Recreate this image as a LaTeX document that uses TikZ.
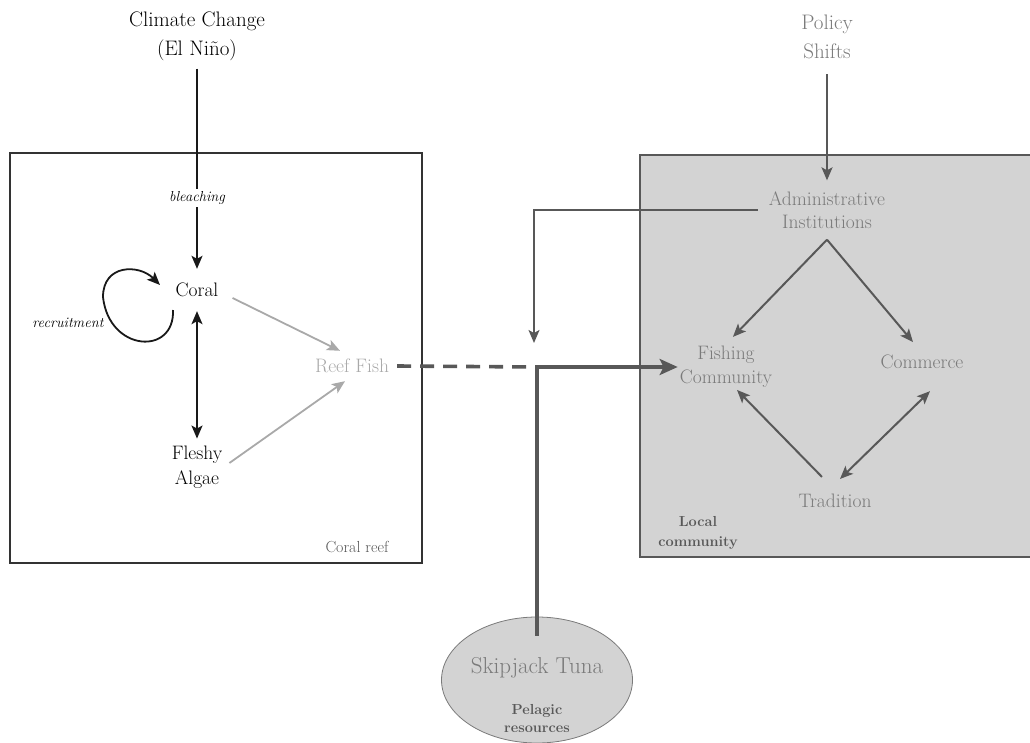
\documentclass[tikz,border=0pt]{standalone}
\usepackage{amsmath}
\usepackage{amssymb}
\usepackage[table]{xcolor}
\usetikzlibrary{arrows, arrows.meta}
\usetikzlibrary{calc}
\usetikzlibrary{shapes.geometric}

\definecolor{boxgray}{HTML}{D3D3D3}
\definecolor{textgray}{HTML}{7A7A7A}
\definecolor{fishgray}{HTML}{A9A9A9}
\definecolor{linegray}{HTML}{585858}

\tikzset{
  bigtext/.style={font=\fontsize{19.5}{25}\selectfont, align=center, inner sep=2pt},
  titletext/.style={font=\fontsize{21}{29}\selectfont, align=center, inner sep=2pt},
  smalltext/.style={font=\fontsize{16}{20}\selectfont, align=center, inner sep=1pt},
  boldtext/.style={font=\fontsize{14.5}{20}\selectfont\bfseries, align=center, inner sep=1pt},
  slanttext/.style={font=\fontsize{14.5}{16}\selectfont\itshape, inner sep=1pt},
  blackarrow/.style={draw=black!90, line width=1.8pt, -{Stealth[length=13pt, width=11pt, inset=3pt]}},
  graylight/.style={draw=fishgray, line width=1.8pt, -{Stealth[length=13pt, width=11pt, inset=3pt]}},
  graydark/.style={draw=linegray, line width=2pt, -{Stealth[length=13pt, width=11pt, inset=3pt]}},
  thickarrow/.style={draw=linegray, line width=3.6pt, -{Stealth[length=18pt, width=16pt, inset=4pt]}}
}

\begin{document}
\begin{tikzpicture}[x=1pt, y=-1pt]
  \useasboundingbox (0,0) rectangle (1030,743);

  \draw[line width=1.3pt, draw=black!80] (10,153) rectangle (422,563);
  \draw[line width=1.3pt, draw=linegray, fill=boxgray] (640,155) rectangle (1034,557);
  \node[ellipse, draw=textgray, fill=boxgray, line width=0.8pt, minimum width=191pt, minimum height=126pt, inner sep=0pt] (tunaoval) at (537,680) {};

  \node[titletext] (climate) at (197,36) {Climate Change\\(El Niño)};
  \node[titletext, text=textgray] (policy) at (827,37) {Policy\\Shifts};
  \node[bigtext, inner sep=14pt] (coral) at (197,290) {Coral};
  \node[bigtext, inner sep=7pt] (algae) at (197,467) {Fleshy\\Algae};
  \node[bigtext, inner sep=8pt, text=fishgray] (reef) at (352,366) {Reef Fish};
  \node[bigtext, inner sep=11pt, text=textgray, font=\fontsize{19.5}{23}\selectfont] (admin) at (827,210) {Administrative\\Institutions};
  \node[bigtext, text=textgray, font=\fontsize{19.5}{24}\selectfont] (fishing) at (726,367) {Fishing\\Community};
  \node[bigtext, text=textgray] (commerce) at (922,362) {Commerce};
  \node[bigtext, text=textgray] (tradition) at (835,501) {Tradition};
  \node[bigtext, text=textgray, font=\fontsize{23}{24}\selectfont] (tuna) at (537,668) {Skipjack Tuna};
  \node[boldtext, text=linegray, font=\fontsize{14.5}{18}\selectfont\bfseries] (pelagic) at (537,719) {Pelagic\\resources};
  \node[boldtext, text=linegray] (locallbl) at (698,533) {Local\\community};
  \node[smalltext, text=linegray] (reeflbl) at (357,547) {Coral reef};
  \coordinate (split) at (tunaoval.north |- fishing.west);

  \draw[blackarrow, shorten <=6pt] (climate.south) -- (coral.north);
  \node[slanttext, fill=white, inner sep=2pt] (bleach) at (197,198) {bleaching};
  \draw[blackarrow, {Stealth[length=13pt, width=11pt, inset=3pt]}-{Stealth[length=13pt, width=11pt, inset=3pt]}] (coral.south) -- (algae.north);
  \draw[blackarrow] ($(coral)+(-24,20)$) .. controls ($(coral)+(-22,66)$) and ($(coral)+(-88,62)$) .. ($(coral)+(-94,7)$) .. controls ($(coral)+(-94,-26)$) and ($(coral)+(-58,-26)$) .. ($(coral)+(-37,-5)$);
  \node[slanttext] (recruit) at (68,323) {recruitment};

  \draw[graylight] ([yshift=-8pt]coral.east) -- ([xshift=-12pt]reef.north);
  \draw[graylight] ([yshift=4pt]algae.east) -- ([xshift=-7pt]reef.south);
  \draw[draw=linegray, line width=3.6pt, dash pattern=on 14pt off 9pt] (reef.east) -- (split);
  \draw[thickarrow] ([yshift=-19pt]tunaoval.north) |- (fishing.west);

  \draw[graydark, shorten <=13pt] (policy.south) -- (admin.north);
  \draw[graydark, line width=1.6pt] (admin.west) -| ([shift={(-3pt,24pt)}]split);
  \draw[graydark, shorten >=10pt] (admin.south) -- (fishing.north);
  \draw[graydark, shorten >=14pt] (admin.south) -- (commerce.north);
  \draw[graydark] ([shift={(-13pt,15pt)}]tradition.north) -- ([xshift=11pt]fishing.south);
  \draw[graydark, {Stealth[length=13pt, width=11pt, inset=3pt]}-{Stealth[length=13pt, width=11pt, inset=3pt]}] ([shift={(8pt,-20pt)}]commerce.south) -- ([shift={(5pt,13pt)}]tradition.north);
\end{tikzpicture}
\end{document}
